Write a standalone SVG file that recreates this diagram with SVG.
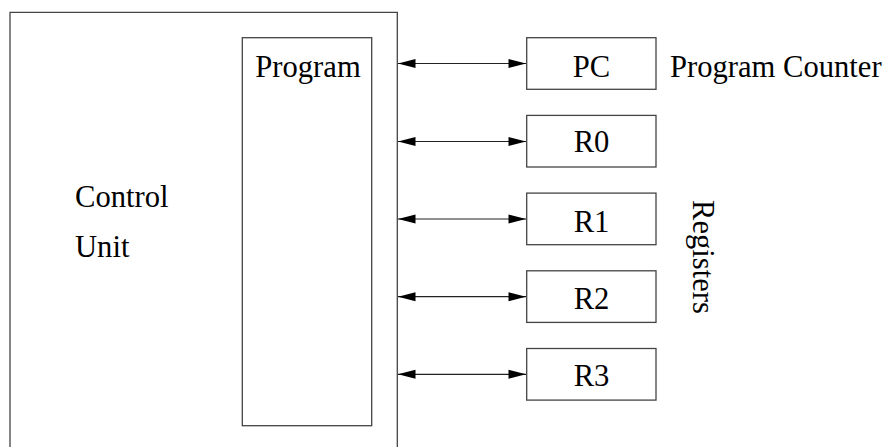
<svg xmlns="http://www.w3.org/2000/svg" width="886" height="447" viewBox="0 0 886 447">
<style>
.box{fill:none;stroke:#444;stroke-width:1.3}
.lbl{font-family:"Liberation Serif","Times New Roman",serif;font-size:30.6px;fill:#000}
.c{text-anchor:middle}
.conn{stroke:#222;stroke-width:1.2;fill:none;marker-start:url(#ah);marker-end:url(#ah)}
</style>
<defs>
<marker id="ah" markerUnits="userSpaceOnUse" markerWidth="19" markerHeight="11" refX="17.5" refY="5" orient="auto-start-reverse" overflow="visible">
<path d="M0,0.5 L17.5,5 L0,9.5 Z" fill="#000"/>
</marker>
</defs>
<rect width="886" height="447" fill="#fff"/>
<g id="control-unit">
<path class="box" d="M10,460 L10,12.3 L397.3,12.3 L397.3,460"/>
<text class="lbl" x="75" y="206.5">Control</text>
<text class="lbl" x="75" y="257.3">Unit</text>
</g>
<g id="program">
<rect class="box" x="242.3" y="37.7" width="129.4" height="388"/>
<text class="lbl c" x="308" y="76.7">Program</text>
</g>
<g id="pc">
<rect class="box" x="526.7" y="37.7" width="129.3" height="51.6"/>
<text class="lbl c" x="591.5" y="76.7">PC</text>
<text class="lbl" x="670" y="76.7">Program Counter</text>
</g>
<g id="r0">
<rect class="box" x="526.7" y="115.4" width="129.3" height="51.6"/>
<text class="lbl c" x="591.5" y="152">R0</text>
</g>
<g id="r1">
<rect class="box" x="526.7" y="193.1" width="129.3" height="51.6"/>
<text class="lbl c" x="591.5" y="232.3">R1</text>
</g>
<g id="r2">
<rect class="box" x="526.7" y="270.8" width="129.3" height="51.6"/>
<text class="lbl c" x="591.5" y="309.3">R2</text>
</g>
<g id="r3">
<rect class="box" x="526.7" y="348.5" width="129.3" height="51.6"/>
<text class="lbl c" x="591.5" y="385.5">R3</text>
</g>
<g id="registers-label">
<text class="lbl" transform="translate(693,200) rotate(90)" x="0" y="0">Registers</text>
</g>
<g id="connectors">
<line class="conn" x1="398" y1="63.5" x2="526" y2="63.5"/>
<line class="conn" x1="398" y1="141.5" x2="526" y2="141.5"/>
<line class="conn" x1="398" y1="219" x2="526" y2="219"/>
<line class="conn" x1="398" y1="296.7" x2="526" y2="296.7"/>
<line class="conn" x1="398" y1="374.3" x2="526" y2="374.3"/>
</g>
</svg>
